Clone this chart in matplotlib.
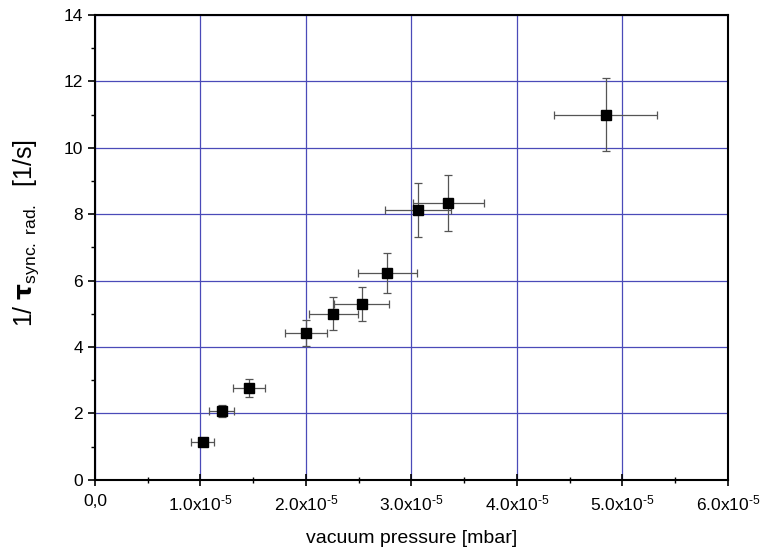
import matplotlib
matplotlib.use("Agg")
import matplotlib.pyplot as plt
from matplotlib.ticker import MultipleLocator

plt.rcParams['font.family'] = ['Liberation Sans', 'DejaVu Sans']
plt.rcParams['mathtext.fontset'] = 'custom'
plt.rcParams['mathtext.rm'] = 'Liberation Sans'
plt.rcParams['mathtext.it'] = 'Liberation Sans'
plt.rcParams['mathtext.bf'] = 'DejaVu Sans:bold'
plt.rcParams['axes.unicode_minus'] = False

pressure = [1.02e-5, 1.20e-5, 1.46e-5, 2.00e-5, 2.26e-5, 2.53e-5, 2.77e-5, 3.06e-5, 3.35e-5, 4.84e-5]
rate = [1.15, 2.08, 2.77, 4.42, 5.0, 5.3, 6.22, 8.13, 8.34, 11.0]
pressure_err = [0.11e-5, 0.12e-5, 0.15e-5, 0.2e-5, 0.23e-5, 0.26e-5, 0.28e-5, 0.31e-5, 0.34e-5, 0.49e-5]
rate_err = [0.12, 0.18, 0.28, 0.4, 0.5, 0.52, 0.6, 0.8, 0.84, 1.1]
xtick_vals = [0, 1e-5, 2e-5, 3e-5, 4e-5, 5e-5, 6e-5]
xtick_labels = ['0,0', '1.0x10$^{\\text{-5}}$', '2.0x10$^{\\text{-5}}$', '3.0x10$^{\\text{-5}}$',
                '4.0x10$^{\\text{-5}}$', '5.0x10$^{\\text{-5}}$', '6.0x10$^{\\text{-5}}$']
ytick_vals = [0, 2, 4, 6, 8, 10, 12, 14]

fig = plt.figure(figsize=(7.72, 5.58), dpi=100)
ax = fig.add_axes([0.123, 0.14, 0.82, 0.833])

ax.errorbar(pressure, rate, xerr=pressure_err, yerr=rate_err, fmt='none',
            ecolor='#555555', elinewidth=0.9, capsize=3, capthick=0.9, zorder=3)
ax.plot(pressure, rate, 's', color='black', markersize=7, zorder=4)

ax.set_xlim(0, 6e-5)
ax.set_ylim(0, 14)
ax.set_xticks(xtick_vals)
ax.set_xticklabels(xtick_labels, fontsize=12.5)
ax.set_yticks(ytick_vals)
ax.tick_params(axis='y', labelsize=12.5, direction='out', length=5, width=1.2)
ax.tick_params(axis='x', direction='inout', length=8, width=1.2, pad=6)
ax.xaxis.set_minor_locator(MultipleLocator(0.5e-5))
ax.yaxis.set_minor_locator(MultipleLocator(1))
ax.tick_params(axis='x', which='minor', direction='inout', length=5, width=1.0)
ax.tick_params(axis='y', which='minor', direction='out', length=3, width=1.0)
ax.tick_params(top=False, right=False)

ax.grid(True, which='major', color='#4a4ab8', linewidth=0.9)
ax.set_axisbelow(True)
for s in ax.spines.values():
    s.set_linewidth(1.5)

ax.set_xlabel('vacuum pressure [mbar]', fontsize=14, labelpad=12)
ax.set_ylabel(r'1/ $\mathbf{\tau}_{\mathrm{sync.\ rad.}}$  [1/s]', fontsize=18)
ax.yaxis.set_label_coords(-0.085, 0.53)

fig.savefig('out.png', dpi=100)
